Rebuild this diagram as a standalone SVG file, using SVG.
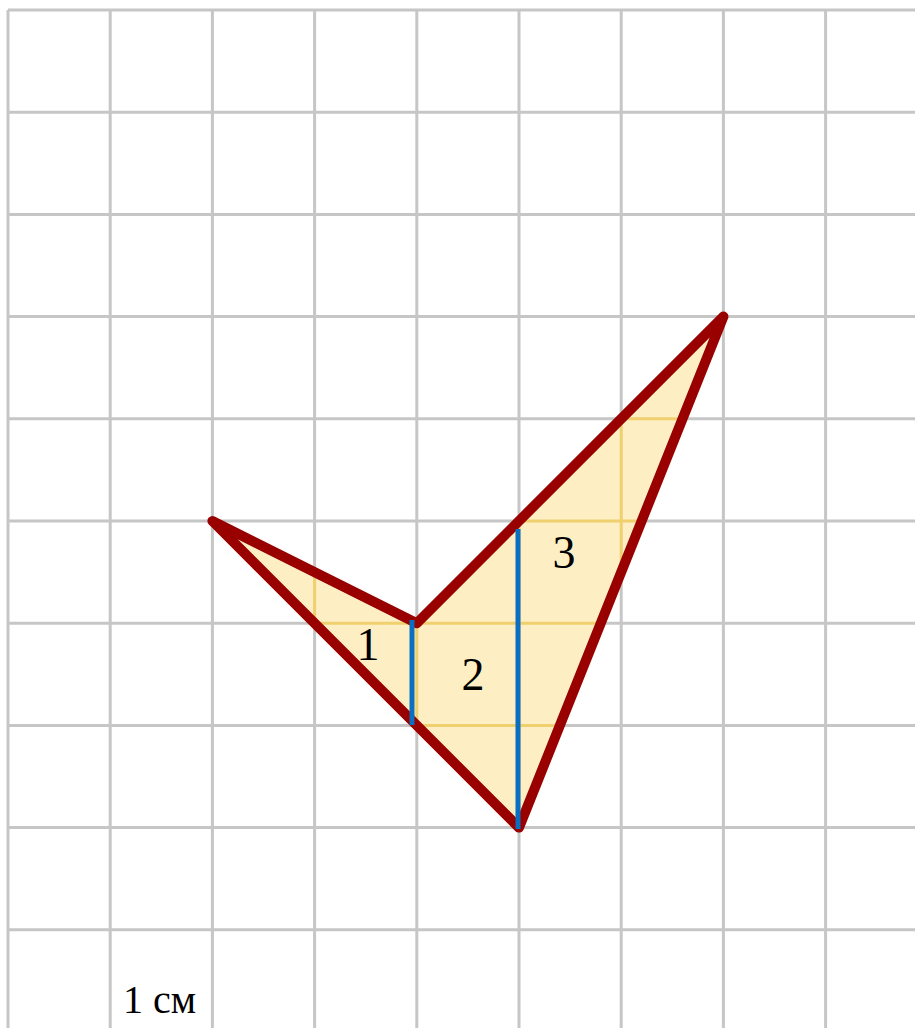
<svg xmlns="http://www.w3.org/2000/svg" width="915" height="1028" viewBox="0 0 915 1028">
<style>
.grid{stroke:#c6c6c6;stroke-width:3}
.ingrid{stroke:#f0cf6e;stroke-width:3}
.lbl{font-family:"Liberation Serif","DejaVu Serif",serif;fill:#000}
.fig{fill:none;stroke:#990000;stroke-width:10;stroke-linejoin:round;stroke-linecap:round}
.blue{stroke:#0a6fc0;stroke-width:5}
</style>
<defs>
<clipPath id="clipFig"><polygon points="212.4,521 416.8,623.2 723.4,316.6 519,827.6"/></clipPath>
<g id="gridlines">
<line x1="8" y1="10" x2="8" y2="1028"/>
<line x1="110.2" y1="10" x2="110.2" y2="1028"/>
<line x1="212.4" y1="10" x2="212.4" y2="1028"/>
<line x1="314.6" y1="10" x2="314.6" y2="1028"/>
<line x1="416.8" y1="10" x2="416.8" y2="1028"/>
<line x1="519" y1="10" x2="519" y2="1028"/>
<line x1="621.2" y1="10" x2="621.2" y2="1028"/>
<line x1="723.4" y1="10" x2="723.4" y2="1028"/>
<line x1="825.6" y1="10" x2="825.6" y2="1028"/>
<line x1="8" y1="10" x2="915" y2="10"/>
<line x1="8" y1="112.2" x2="915" y2="112.2"/>
<line x1="8" y1="214.4" x2="915" y2="214.4"/>
<line x1="8" y1="316.6" x2="915" y2="316.6"/>
<line x1="8" y1="418.8" x2="915" y2="418.8"/>
<line x1="8" y1="521" x2="915" y2="521"/>
<line x1="8" y1="623.2" x2="915" y2="623.2"/>
<line x1="8" y1="725.4" x2="915" y2="725.4"/>
<line x1="8" y1="827.6" x2="915" y2="827.6"/>
<line x1="8" y1="929.8" x2="915" y2="929.8"/>
</g>
</defs>
<rect width="915" height="1028" fill="#ffffff"/>
<g id="grid"><use href="#gridlines" class="grid"/></g>
<g id="figure">
<polygon points="212.4,521 416.8,623.2 723.4,316.6 519,827.6" fill="#fdefc3"/>
<g clip-path="url(#clipFig)"><use href="#gridlines" class="ingrid"/></g>
</g>
<g id="connectors">
<polygon class="fig" points="212.4,521 416.8,623.2 723.4,316.6 519,827.6"/>
<line class="blue" x1="412" y1="620" x2="412" y2="725"/>
<line class="blue" x1="518" y1="529" x2="518" y2="829"/>
</g>
<g id="label1"><text class="lbl" x="368" y="660" font-size="46" text-anchor="middle">1</text></g>
<g id="label2"><text class="lbl" x="473" y="690" font-size="46" text-anchor="middle">2</text></g>
<g id="label3"><text class="lbl" x="564" y="568" font-size="46" text-anchor="middle">3</text></g>
<g id="scale"><text class="lbl" x="123" y="1013" font-size="40">1 см</text></g>
</svg>
